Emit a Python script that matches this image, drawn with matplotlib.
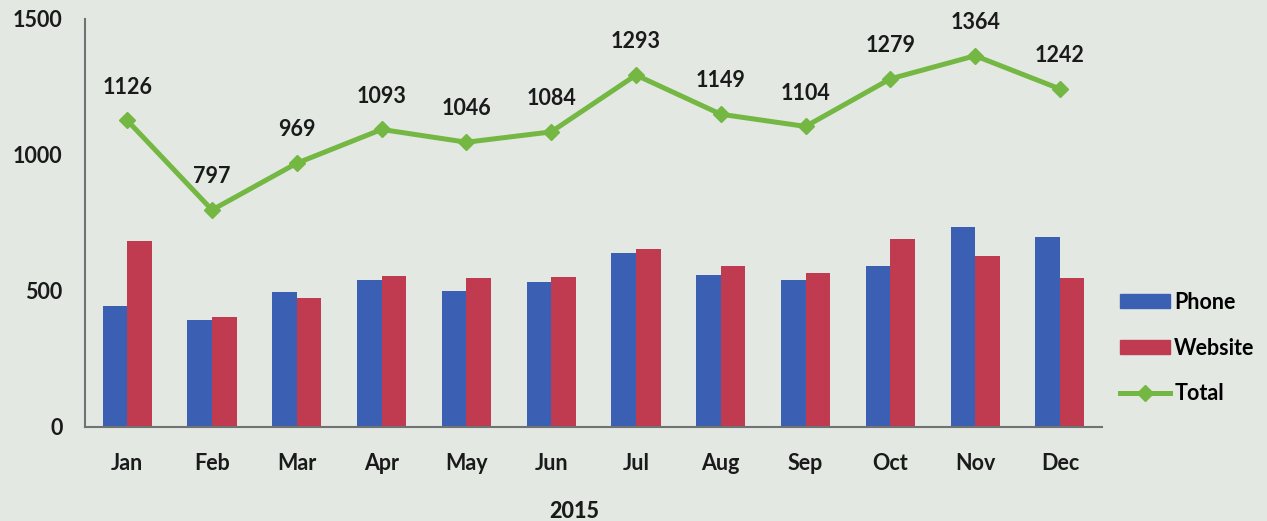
"""
2015 monthly contacts: phone vs website bars with total line
"""
import matplotlib
matplotlib.use("Agg")
import matplotlib.pyplot as plt
import numpy as np
from matplotlib.lines import Line2D
from matplotlib.patches import Patch

# data
months = ["Jan", "Feb", "Mar", "Apr", "May", "Jun", "Jul", "Aug", "Sep", "Oct", "Nov", "Dec"]
phone = [443, 394, 494, 540, 499, 532, 640, 557, 539, 590, 736, 696]
website = [683, 403, 475, 553, 547, 552, 653, 592, 565, 689, 628, 546]
total = [1126, 797, 969, 1093, 1046, 1084, 1293, 1149, 1104, 1279, 1364, 1242]
year_label = "2015"

bg = "#e3e8e3"
blue = "#3b5fb3"
red = "#c03a50"
green = "#74b843"
fs = 15.5

plt.rcParams["font.family"] = ["Lato", "DejaVu Sans"]
plt.rcParams["font.weight"] = "bold"

fig = plt.figure(figsize=(12.67, 5.21), dpi=100, facecolor=bg)
ax = fig.add_axes([0.067, 0.181, 0.803, 0.783], facecolor=bg)

x = np.arange(len(months))
w = 0.29
ax.bar(x - w / 2, phone, width=w, color=blue, zorder=2)
ax.bar(x + w / 2, website, width=w, color=red, zorder=2)
ax.plot(x, total, color=green, lw=3.6, marker="D", ms=8, zorder=3)

# value labels above the total line
for xi, t in zip(x, total):
    ax.annotate(str(t), (xi, t), xytext=(0, 24), textcoords="offset points",
                ha="center", va="center", fontsize=fs, fontweight="bold", color="#1a1a1a")

ax.set_xlim(-0.5, len(months) - 0.5)
ax.set_ylim(0, 1500)
ax.set_yticks([0, 500, 1000, 1500])
ax.set_xticks(x, months)
ax.tick_params(axis="both", length=0, labelsize=fs, colors="#1a1a1a")
ax.tick_params(axis="x", pad=19)
ax.tick_params(axis="y", pad=16)
for side in ["top", "right"]:
    ax.spines[side].set_visible(False)
for side in ["left", "bottom"]:
    ax.spines[side].set_color("#6f7472")
    ax.spines[side].set_linewidth(1.5)

ax.set_xlabel(year_label, fontsize=fs, fontweight="black", color="#1a1a1a")
ax.xaxis.set_label_coords(0.481, -0.182)

handles = [
    Patch(color=blue, label="Phone"),
    Patch(color=red, label="Website"),
    Line2D([], [], color=green, lw=3.6, marker="D", ms=8, label="Total"),
]
fig.legend(handles=handles, loc="center left", bbox_to_anchor=(0.869, 0.332), frameon=False,
           fontsize=fs, handlelength=2.3, handleheight=0.65, labelspacing=1.15, handletextpad=0.2)

fig.savefig("out.png", dpi=100, facecolor=bg)
